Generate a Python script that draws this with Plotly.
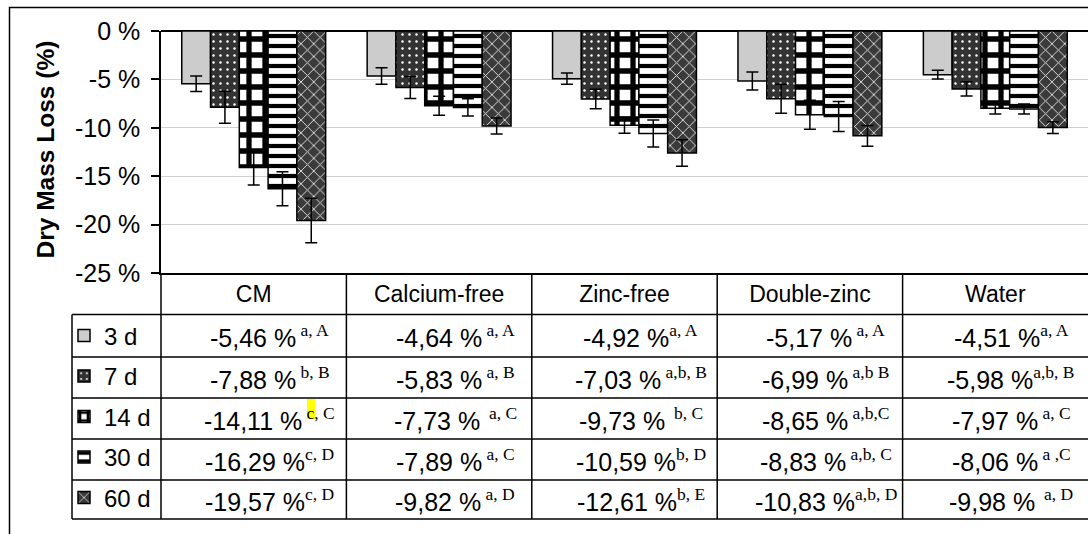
import plotly.graph_objects as go

# ---------------- data ----------------
categories = ["CM", "Calcium-free", "Zinc-free", "Double-zinc", "Water"]
series_names = ["3 d", "7 d", "14 d", "30 d", "60 d"]

loss_3d = [-5.46, -4.64, -4.92, -5.17, -4.51]
loss_7d = [-7.88, -5.83, -7.03, -6.99, -5.98]
loss_14d = [-14.11, -7.73, -9.73, -8.65, -7.97]
loss_30d = [-16.29, -7.89, -10.59, -8.83, -8.06]
loss_60d = [-19.57, -9.82, -12.61, -10.83, -9.98]

err_3d = [0.80, 0.85, 0.57, 0.93, 0.45]
err_7d = [1.65, 1.14, 1.00, 1.50, 0.74]
err_14d = [1.80, 0.98, 0.83, 1.50, 0.60]
err_30d = [1.75, 0.88, 1.40, 1.55, 0.52]
err_60d = [2.30, 0.83, 1.37, 1.07, 0.60]

NB = "\u00a0"
sig_3d = [NB + "a, A", NB + "a, A", "a, A", NB + "a, A", "a, A"]
sig_7d = [NB + "b, B", NB + "a, B", NB + "a,b, B", NB + "a,b B", "a,b, B"]
sig_14d = [NB + "c, C", NB * 2 + "a, C", NB * 2 + "b, C", NB + "a,b,C", NB + "a, C"]
sig_30d = ["c, D", NB + "a, C", "b, D", NB + "a,b, C", NB + "a ,C"]
sig_60d = ["c, D", NB + "a, D", "b, E", "a,b, D", NB * 2 + "a, D"]

ytick_vals = [0, -5, -10, -15, -20, -25]
ytick_text = ["0 %", "-5 %", "-10 %", "-15 %", "-20 %", "-25 %"]

y_title = "Dry Mass Loss (%)"

# ---------------- styling / geometry ----------------
W, H = 1088, 534
L, R, T, B = 161, 0, 31, 261
PW, PH = W - L - R, H - T - B


def xp(px):
    return (px - L) / PW


def yp(py):
    return (H - B - py) / PH


FONT = "Liberation Sans, Arial, sans-serif"
SERIF = "Liberation Serif, Times New Roman, serif"

styles = [
    dict(color="#cccccc", pattern=dict(shape="")),
    dict(color="#333333", pattern=dict(shape=".", fgcolor="white", bgcolor="#333333",
                                       size=7, solidity=0.1, fillmode="replace")),
    dict(color="white", pattern=dict(shape="+", fgcolor="black", bgcolor="white",
                                     size=16, solidity=0.55, fillmode="replace")),
    dict(color="white", pattern=dict(shape="-", fgcolor="black", bgcolor="white",
                                     size=10, solidity=0.42, fillmode="replace")),
    dict(color="#3a3a3a", pattern=dict(shape="x", fgcolor="#e0e0e0", bgcolor="#3a3a3a",
                                       size=9, solidity=0.2, fillmode="replace")),
]

losses = [loss_3d, loss_7d, loss_14d, loss_30d, loss_60d]
errors = [err_3d, err_7d, err_14d, err_30d, err_60d]
sigs = [sig_3d, sig_7d, sig_14d, sig_30d, sig_60d]

fig = go.Figure()
for i, name in enumerate(series_names):
    fig.add_trace(go.Bar(
        x=categories, y=losses[i], name=name, legendgroup=name,
        marker=dict(color=styles[i]["color"], pattern=styles[i]["pattern"],
                    line=dict(color="black", width=1.5)),
        error_y=dict(type="data", array=errors[i], visible=True,
                     color="black", thickness=1.5, width=6),
    ))

shapes = []
line_style = dict(color="black", width=1.5)
# outer chart border
shapes.append(dict(type="rect", xref="paper", yref="paper",
                   x0=xp(9.5), x1=xp(1120), y0=yp(7.5), y1=yp(600),
                   line=line_style, fillcolor="rgba(0,0,0,0)", layer="below"))
# table horizontal lines
row_lines = [314.5, 357, 398, 439, 480, 519]
for ry in row_lines:
    shapes.append(dict(type="line", xref="paper", yref="paper",
                       x0=xp(72), x1=xp(1100), y0=yp(ry), y1=yp(ry), line=line_style))
# table vertical lines
shapes.append(dict(type="line", xref="paper", yref="paper",
                   x0=xp(72), x1=xp(72), y0=yp(314.5), y1=yp(519), line=line_style))
col_w = PW / len(categories)
for k in range(len(categories)):
    cx = L + k * col_w
    shapes.append(dict(type="line", xref="paper", yref="paper",
                       x0=xp(cx), x1=xp(cx), y0=yp(273), y1=yp(519), line=line_style))
# highlight behind the 'c'
shapes.append(dict(type="rect", xref="paper", yref="paper",
                   x0=xp(307), x1=xp(315.5), y0=yp(399), y1=yp(419),
                   line=dict(width=0), fillcolor="#ffff00", layer="below"))

annotations = []
row_centers = [336, 377.5, 418.5, 459.5, 499.5]
for i in range(len(series_names)):
    for k in range(len(categories)):
        val = f"{losses[i][k]:.2f}".replace(".", ",") + " %"
        txt = (val + f"<sup><span style=\"font-family:{SERIF}\">"
               + sigs[i][k] + "</span></sup>")
        cx = L + (k + 0.5) * col_w + 16
        annotations.append(dict(
            x=xp(cx), y=yp(row_centers[i]), xref="paper", yref="paper",
            text=txt, showarrow=False, xanchor="center", yanchor="middle",
            font=dict(family=FONT, size=25, color="black")))

annotations.append(dict(
    x=xp(44.5), y=yp(150), xref="paper", yref="paper", text="<b>" + y_title + "</b>",
    textangle=-90, showarrow=False, xanchor="center", yanchor="middle",
    font=dict(family=FONT, size=24.5, color="black")))

fig.update_layout(
    width=W, height=H,
    margin=dict(l=L, r=R, t=T, b=B, autoexpand=False),
    paper_bgcolor="white", plot_bgcolor="white",
    barmode="group", bargap=0.224, bargroupgap=0,
    font=dict(family=FONT, size=23, color="black"),
    shapes=shapes, annotations=annotations,
    showlegend=True,
    legend=dict(orientation="v", xref="container", yref="container",
                x=64 / W, y=1 - 313.5 / H, xanchor="left", yanchor="top",
                bgcolor="rgba(0,0,0,0)", borderwidth=0, tracegroupgap=6.3,
                traceorder="grouped", font=dict(family=FONT, size=24, color="black")),
    xaxis=dict(showline=True, linecolor="black", linewidth=1.5, ticks="",
               showgrid=False, tickfont=dict(family=FONT, size=23, color="black"),
               ticklabelstandoff=0, fixedrange=True),
    yaxis=dict(range=[-25, 0], tickvals=ytick_vals, ticktext=ytick_text,
               showline=True, linecolor="black", linewidth=1.5,
               ticks="outside", ticklen=8, tickwidth=1.5, tickcolor="black",
               showgrid=True, gridcolor="#cfcfcf", gridwidth=1,
               zeroline=True, zerolinecolor="black", zerolinewidth=1.5,
               tickfont=dict(family=FONT, size=25, color="black"),
               ticklabelstandoff=6, fixedrange=True),
)

fig.write_html("out.html")
